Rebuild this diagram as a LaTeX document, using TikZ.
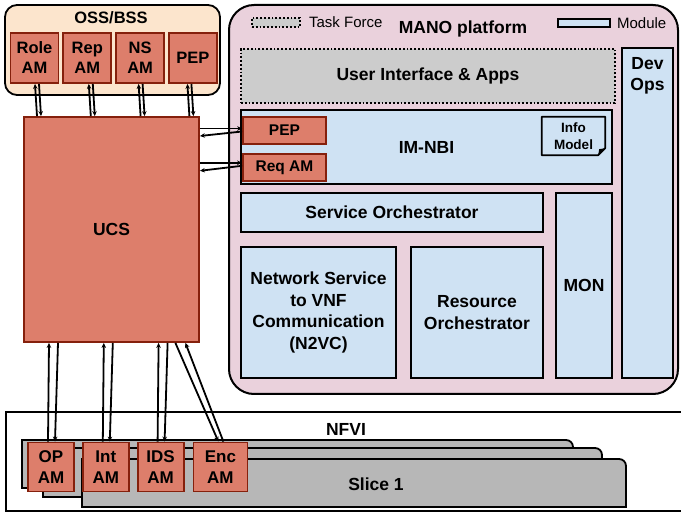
\documentclass[tikz,border=0pt]{standalone}
\usepackage{fontspec}
\setmainfont{Liberation Sans}
\usetikzlibrary{arrows.meta, positioning}

\definecolor{amfill}{HTML}{DD7E6B}
\definecolor{amline}{HTML}{85200C}
\definecolor{ossfill}{HTML}{FCE5CD}
\definecolor{manofill}{HTML}{EAD1DC}
\definecolor{modfill}{HTML}{CFE2F3}
\definecolor{tffill}{HTML}{CCCCCC}
\definecolor{slicefill}{HTML}{B7B7B7}

\begin{document}
\begin{tikzpicture} [x=1pt, y=-1pt,
			every node/.style={align=center, inner sep=0pt,
				font=\fontsize{17.5}{21.5}\selectfont\bfseries},
			am/.style={draw=amline, fill=amfill, line width=1.8pt,
				minimum width=48pt, minimum height=50pt,
				font=\fontsize{16.5}{20}\selectfont\bfseries},
			module/.style={draw, fill=modfill, line width=1.8pt},
			taskforce/.style={draw, fill=tffill, line width=1.8pt, dotted},
			slice/.style={draw, fill=slicefill, line width=1.8pt},
			link/.style={line width=1.8pt, -{Stealth[length=5pt, width=4.5pt]}},
		]
		\useasboundingbox (0,0) rectangle (681,513);

		% OSS/BSS
		\node (oss) [draw, fill=ossfill, line width=1.8pt, rounded corners=12pt,
			minimum width=215pt, minimum height=90pt] at (112.5,50) {};
		\node (osslbl) [font=\fontsize{16.5}{20}\selectfont\bfseries] at (111,18) {OSS/BSS};
		\node (role) [am] at (34.5,58) {Role\\AM};
		\node (rep) [am,
			right=3pt of role] {Rep\\AM};
		\node (ns) [am,
			right=3pt of rep] {NS\\AM};
		\node (pep) [am,
			right=3pt of ns] {PEP};

		% MANO platform
		\node (mano) [draw, fill=manofill, line width=2pt, rounded corners=25pt,
			minimum width=449pt, minimum height=389pt] at (453.5,199.5) {};
		\node (tfkey) [taskforce, minimum width=48pt, minimum height=9pt] at (276,22.5) {};
		\node (tftext) [right=8pt of tfkey,
			font=\fontsize{15}{17}\selectfont\mdseries] {Task Force};
		\node (manolbl) at (463,29) {MANO platform};
		\node (modkey) [module, minimum width=52pt, minimum height=8pt] at (584,23) {};
		\node (modtext) [right=6pt of modkey,
			font=\fontsize{15}{17}\selectfont\mdseries] {Module};

		% Modules
		\node (ui) [taskforce, minimum width=374pt, minimum height=54pt] at (428,76) {User Interface \& Apps};
		\node (devops) [module, minimum width=51pt, minimum height=330pt] at (647.5,213) {};
		\node (devopslbl) at (647.5,76) {Dev\\Ops};
		\node (imnbi) [module, minimum width=371pt, minimum height=74pt] at (426.5,147) {IM-NBI};
		\node (mpep) [am, minimum width=83pt, minimum height=27pt,
			font=\fontsize{15.5}{18}\selectfont\bfseries] at (284.5,130.5) {PEP};
		\node (reqam) [am, minimum width=83pt, minimum height=27pt,
			font=\fontsize{15.5}{18}\selectfont\bfseries,
			below=8pt of mpep] {Req AM};
		\node (info) [minimum width=63pt, minimum height=38pt,
			font=\fontsize{13.5}{17}\selectfont\bfseries] at (573.5,136) {Info\\Model};
		\draw [line width=1.8pt, line join=round] (info.north west) -- (info.north east)
			-- ([yshift=7pt]info.south east) -- ([xshift=-7pt]info.south east)
			-- (info.south west) -- cycle;
		\fill ([yshift=7pt]info.south east) -- ([xshift=-7pt]info.south east)
			-- ([xshift=-6pt, yshift=6pt]info.south east) -- cycle;
		\node (so) [module, minimum width=302pt, minimum height=39pt] at (392,212.5) {Service Orchestrator};
		\node (mon) [module, minimum width=56pt, minimum height=185pt] at (584,285.5) {MON};
		\node (n2vc) [module, minimum width=155pt, minimum height=131pt] at (318.5,312.5)
			{Network Service\\to VNF\\Communication\\(N2VC)};
		\node (ro) [module, minimum width=132pt, minimum height=131pt] at (477,312.5)
			{Resource\\Orchestrator};

		% UCS
		\node (ucs) [am, minimum width=175pt, minimum height=225pt,
			font=\fontsize{17.5}{21.5}\selectfont\bfseries] at (111.5,229.5) {UCS};

		% NFVI and slices
		\node (nfvi) [draw, fill=white, line width=1.8pt, anchor=north west,
			minimum width=690pt, minimum height=99pt] at (5,411) {};
		\node (nfvilbl) at (346,429) {NFVI};
		\draw [slice] (22,488) -- (22,440) [rounded corners=7pt] -- (573,440) [sharp corners] -- (573,488) -- cycle;
		\draw [slice] (43,497) -- (43,448) [rounded corners=7pt] -- (602,448) [sharp corners] -- (602,497) -- cycle;
		\draw [slice] (82,507) -- (82,459) [rounded corners=7pt] -- (626,459) [sharp corners] -- (626,507) -- cycle;
		\node (slicelbl) at (376,484) {Slice 1};

		% Agents in the NFVI
		\node (op) [am, minimum width=46pt, minimum height=49pt,
			font=\fontsize{17}{21}\selectfont\bfseries] at (51,467) {OP\\AM};
		\node (int) [am, minimum width=46pt, minimum height=49pt,
			font=\fontsize{17}{21}\selectfont\bfseries,
			right=7pt of op] {Int\\AM};
		\node (ids) [am, minimum width=46pt, minimum height=49pt,
			font=\fontsize{17}{21}\selectfont\bfseries,
			right=7pt of int] {IDS\\AM};
		\node (enc) [am, minimum width=54pt, minimum height=49pt,
			font=\fontsize{17}{21}\selectfont\bfseries,
			right=8pt of ids] {Enc\\AM};

		% Arrows
		\foreach \b/\o in {role/0.5, rep/1.5, ns/-1.5, pep/-5.5}
		{
			\draw [link] ([xshift=\o pt+2pt]\b.south |- ucs.north) -- ([xshift=\o pt]\b.south);
			\draw [link] ([xshift=\o pt+4pt]\b.south) -- ([xshift=\o pt+6pt]\b.south |- ucs.north);
		}
		\foreach \b in {op, int, ids}
		{
			\draw [link] ([xshift=-3pt]\b.north) -- ([xshift=-2pt]\b.north |- ucs.south);
			\draw [link] ([xshift=7pt]\b.north |- ucs.south) -- ([xshift=4pt]\b.north);
		}
		\draw [link] ([xshift=-45pt]enc.north |- ucs.south) -- ([xshift=-2pt]enc.north);
		\draw [link] ([xshift=3pt]enc.north) -- ([xshift=-35pt]enc.north |- ucs.south);
		\draw [link] ([yshift=2pt]mpep.west -| ucs.east) -- ([yshift=2pt]mpep.west);
		\draw [link] ([yshift=-1pt]mpep.west) -- ([yshift=-5.5pt]mpep.west -| ucs.east);
		\draw [link] ([yshift=4.5pt]reqam.west -| ucs.east) -- ([yshift=4.5pt]reqam.west);
		\draw [link] ([yshift=1.5pt]reqam.west) -- ([yshift=-3.5pt]reqam.west -| ucs.east);
	\end{tikzpicture}
\end{document}
